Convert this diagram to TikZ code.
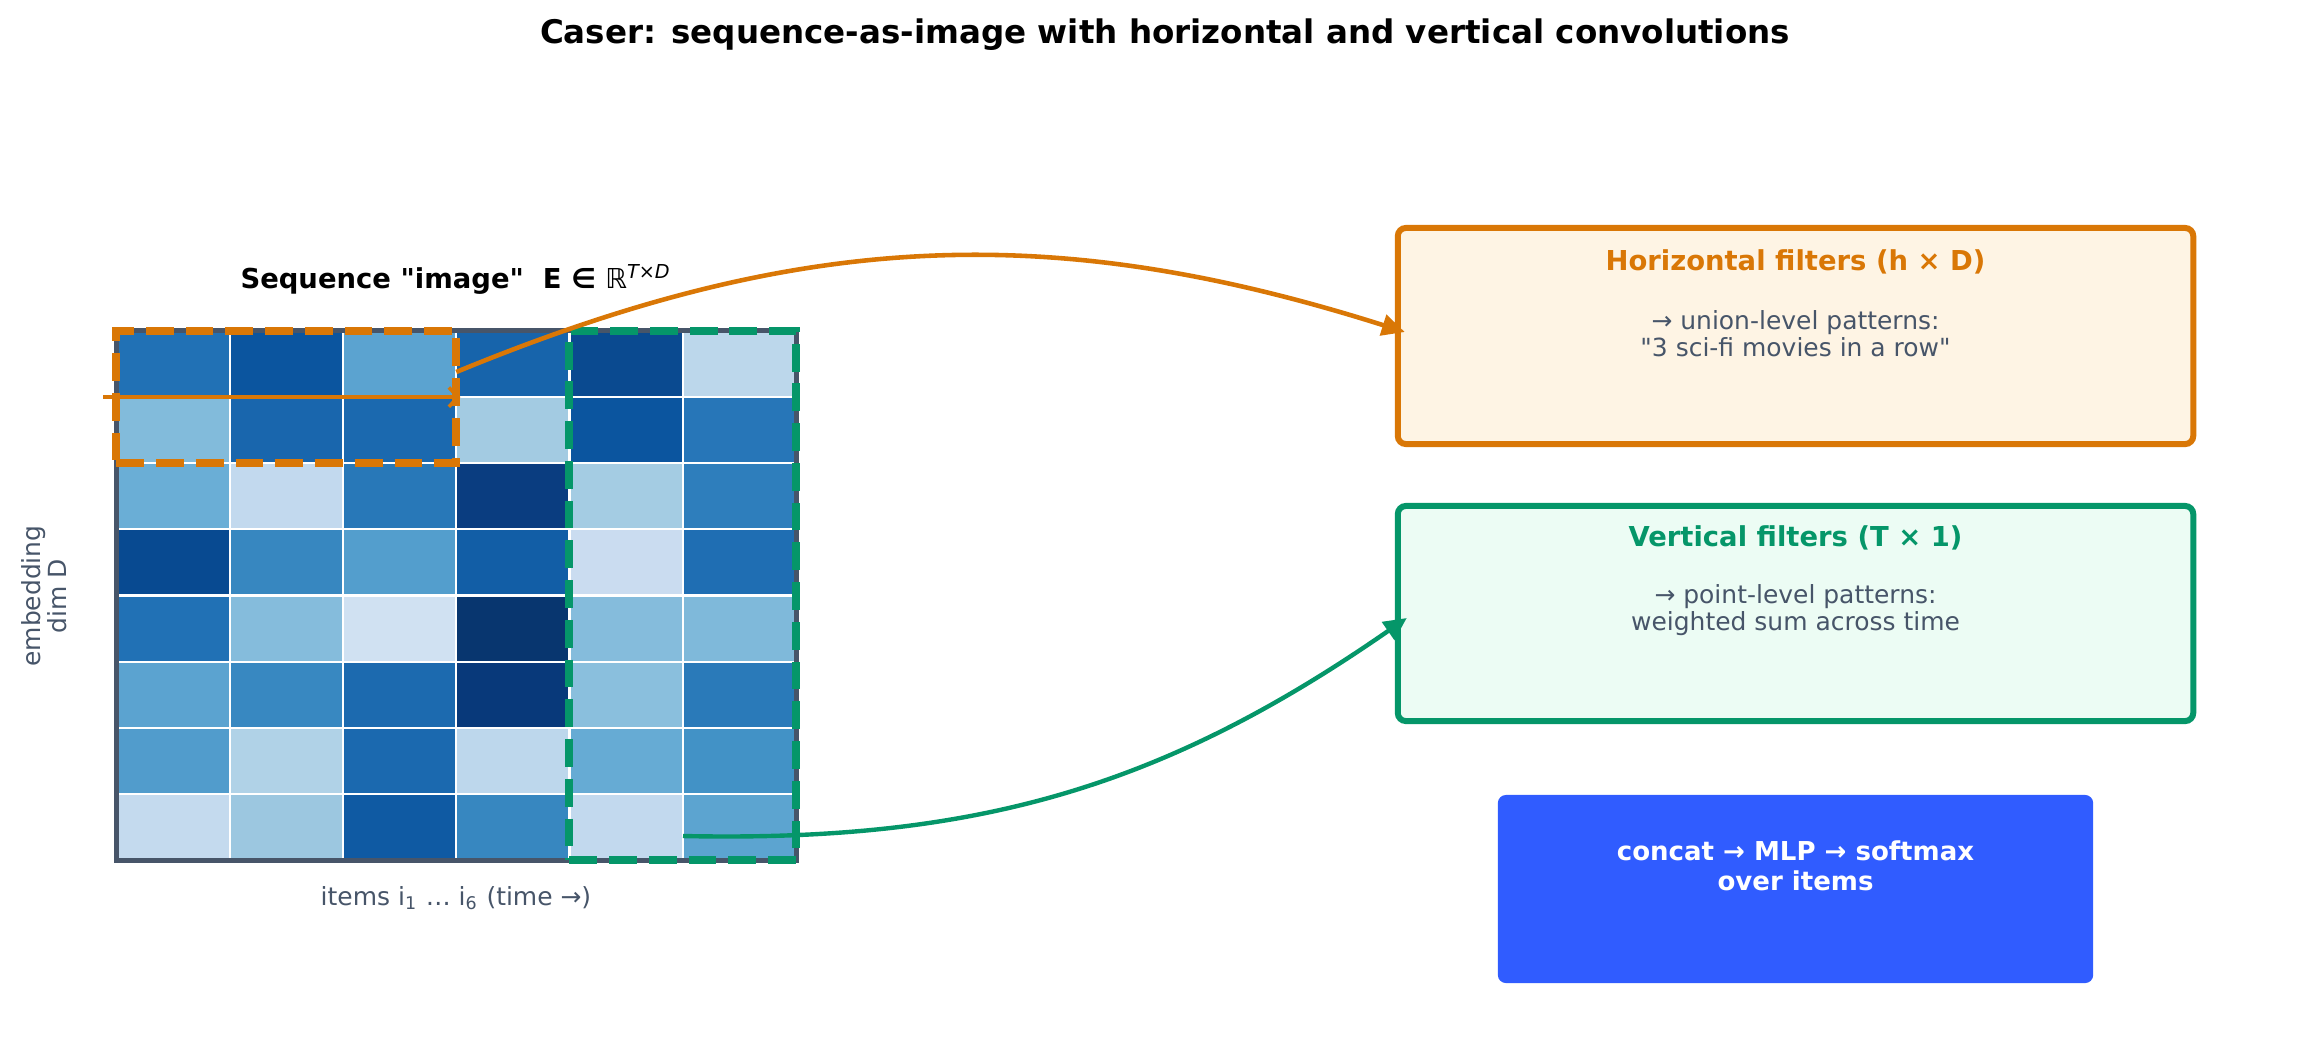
\documentclass[tikz,border=0pt]{standalone}
\usepackage{fontspec}
\setmainfont{DejaVu Sans}
\newfontfamily\dvplain{DejaVu Sans}
\usepackage{xcolor}
\definecolor{cSlate}{HTML}{475569}
\definecolor{cHoriz}{HTML}{D97706}
\definecolor{cHorizBg}{HTML}{FEF4E4}
\definecolor{cVert}{HTML}{059669}
\definecolor{cVertBg}{HTML}{ECFCF4}
\definecolor{cOut}{HTML}{305CFF}
\usepackage{tikz}
\usetikzlibrary{arrows.meta,calc}
\tikzset{
  cell/.style={draw=white,line width=0.6pt},
  grid-frame/.style={draw=cSlate,line width=1.5pt,inner sep=0pt,
    minimum width=6.795cm,minimum height=5.29cm},
  win-h/.style={draw=cHoriz,line width=2.3pt,dash pattern=on 7.9pt off 3.4pt,
    inner sep=0pt,minimum width=3.3975cm,minimum height=1.3225cm},
  win-v/.style={draw=cVert,line width=2.3pt,dash pattern=on 7.9pt off 3.4pt,
    inner sep=0pt,minimum width=2.265cm,minimum height=5.29cm},
  box-h/.style={draw=cHoriz,fill=cHorizBg,line width=1.7pt,rounded corners=2.3pt,
    minimum width=7.95cm,minimum height=2.16cm},
  box-v/.style={draw=cVert,fill=cVertBg,line width=1.7pt,rounded corners=2.3pt,
    minimum width=7.95cm,minimum height=2.15cm},
  box-out/.style={fill=cOut,rounded corners=2.3pt,
    minimum width=5.95cm,minimum height=1.88cm},
  txt-title/.style={font=\fontsize{7.8}{9}\selectfont\bfseries},
  txt-body/.style={text=cSlate,align=center,font=\dvplain\fontsize{7.1}{7.7}\selectfont},
  txt-out/.style={text=white,align=center,font=\fontsize{7.4}{8.5}\selectfont\bfseries},
  arrow-scan/.style={-{Straight Barb[length=2.6pt,width=5.5pt]},line width=1pt,draw=cHoriz},
  arrow-h/.style={-{Triangle[length=6.5pt,width=6pt]},line width=1.3pt,draw=cHoriz},
  arrow-v/.style={-{Triangle[length=6.5pt,width=6pt]},line width=1.25pt,draw=cVert},
}

\begin{document}
\begin{tikzpicture}[x=0.01cm,y=0.01cm]
  \useasboundingbox (0,0) rectangle (2313,-1057);
  \node[font=\fontsize{9.25}{11}\selectfont\bfseries] (title) at (1165,-35)
    {Caser: sequence-as-image with horizontal and vertical convolutions};

  % embedding matrix, 8 rows x 6 items
  \foreach \lst [count=\r] in {
      {2171B5,0B559F,5BA3D0,1764AB,0A4A90,BCD7EB},
      {82BBDB,1966AD,1B69AF,A3CBE2,0B559F,2776B8},
      {6AAED6,C2D9EE,2878B8,0A3D80,A4CCE3,2E7EBC},
      {084A91,3787C0,539ECD,125EA6,CADCF0,1F6EB3},
      {2171B5,85BCDC,D0E1F2,08366F,85BCDC,7FB9DA},
      {5BA3D0,3888C1,1C6AAF,08397A,8ABFDD,2A7AB9},
      {519CCC,B0D2E7,1B69AF,BDD7EC,66ABD4,4292C6},
      {C4DAEE,9CC7E0,0F5AA3,3787C0,C2D9EE,5CA4D0}}{
    \foreach \hex [count=\c] in \lst {
      \definecolor{cCell}{HTML}{\hex}
      \filldraw[cell,fill=cCell] ({116.5+113.25*(\c-1)},{-331-66.125*(\r-1)})
        rectangle ++(113.25,-66.125);
    }
  }
  \node[grid-frame] (grid) at (456.25,-595.5) {};
  \node[win-h] (hwin) at (286.4,-397.1) {};
  \node[win-v] (vwin) at (682.75,-595.5) {};

  \node[font=\dvplain\fontsize{7.8}{9}\selectfont\bfseries] (seqlabel) at (456,-279)
    {Sequence "image"\ \ E ∈ {\mdseries ℝ}\textsuperscript{\mdseries\itshape T\upshape×\itshape D}};
  \node[txt-body,rotate=90,font=\fontsize{7.1}{7.4}\selectfont] (dimlabel) at (44,-596)
    {embedding\\dim D};
  \node[txt-body] (itemslabel) at (456,-898)
    {items i\textsubscript{1} … i\textsubscript{6} (time →)};

  \node[box-h] (hbox) at (1795.5,-336) {};
  \node[txt-title,text=cHoriz] (htitle) at (1795.5,-262) {Horizontal filters (h × D)};
  \node[txt-body] (hbody) at (1795.5,-333.5) {→ union-level patterns:\\"3 sci-fi movies in a row"};

  \node[box-v] (vbox) at (1795.5,-613.5) {};
  \node[txt-title,text=cVert] (vtitle) at (1795.5,-538) {Vertical filters (T × 1)};
  \node[txt-body] (vbody) at (1795.5,-610) {→ point-level patterns:\\weighted sum across time};

  \node[box-out] (outbox) at (1795.5,-889) {};
  \node[txt-out] (outtext) at (1795.5,-866) {concat → MLP → softmax\\over items};

  \coordinate (hin) at (103,-397.1);
  \coordinate (hsrc) at (456.25,-372);
  \coordinate (vsrc) at (683,-836);
  \draw[arrow-scan] (hin) -- (hwin.east);
  \draw[arrow-h] (hsrc) to[bend left=20] ($(hbox.west)+(10,4)$);
  \draw[arrow-v] (vsrc) to[bend right=18] ($(vbox.west)+(12,-4.5)$);
\end{tikzpicture}
\end{document}
